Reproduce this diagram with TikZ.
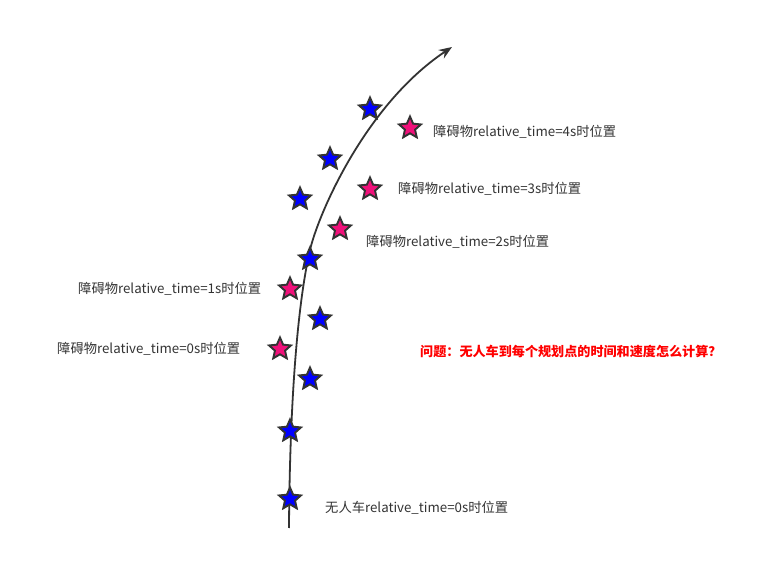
\documentclass[tikz,border=0pt]{standalone}
\usepackage{fontspec}
\setmainfont{Noto Sans CJK SC}
\usetikzlibrary{shapes.geometric,arrows.meta}
\definecolor{dk}{HTML}{333333}
\definecolor{pinkstar}{HTML}{F0107A}
\definecolor{bluestar}{HTML}{0000FF}
\tikzset{
  starbase/.style={star, star points=5, star point ratio=2.15, minimum size=23pt, inner sep=0pt, draw=dk, line width=1.9pt},
  carstar/.style={starbase, fill=bluestar},
  obsstar/.style={starbase, fill=pinkstar},
  lbl/.style={anchor=west, inner sep=0pt, text=dk, font=\fontsize{13.3pt}{15pt}\selectfont},
  question/.style={anchor=west, inner sep=0pt, text=red, font=\fontsize{13.1pt}{15pt}\selectfont\bfseries},
  path line/.style={draw=dk, line width=1.8pt, -{Stealth[length=13pt,width=10pt]}}
}
\begin{document}
\begin{tikzpicture}[x=1pt,y=-1pt]
\useasboundingbox (0,0) rectangle (772,561);
% trajectory
\coordinate (s) at (289,528);
\coordinate (m) at (310,250);
\coordinate (e) at (452,47);
\draw[path line] (s) .. controls (289.5,440) and (294,320) .. (m)
                     .. controls (318,215) and (365,105) .. (e);
% car (planned) positions
\node[carstar] (c1) at (370,109) {};
\node[carstar] (c2) at (330,159) {};
\node[carstar] (c3) at (300,199) {};
\node[carstar] (c4) at (310,259) {};
\node[carstar] (c5) at (320,319) {};
\node[carstar] (c6) at (310,379) {};
\node[carstar] (c7) at (290,431) {};
\node[carstar] (c8) at (290,499) {};
% obstacle positions
\node[obsstar] (o4) at (410,128) {};
\node[obsstar] (o3) at (370,189) {};
\node[obsstar] (o2) at (340,229) {};
\node[obsstar] (o1) at (290,289) {};
\node[obsstar] (o0) at (280,349) {};
% labels
\node[lbl] (l4) at (433,132) {障碍物relative\_time=4s时位置};
\node[lbl] (l3) at (398,189) {障碍物relative\_time=3s时位置};
\node[lbl] (l2) at (366,242) {障碍物relative\_time=2s时位置};
\node[lbl] (l1) at (78,289) {障碍物relative\_time=1s时位置};
\node[lbl] (l0) at (57,349) {障碍物relative\_time=0s时位置};
\node[lbl] (lc) at (325,508) {无人车relative\_time=0s时位置};
\node[question] (q) at (420,351) {问题：无人车到每个规划点的时间和速度怎么计算？};
\end{tikzpicture}
\end{document}
